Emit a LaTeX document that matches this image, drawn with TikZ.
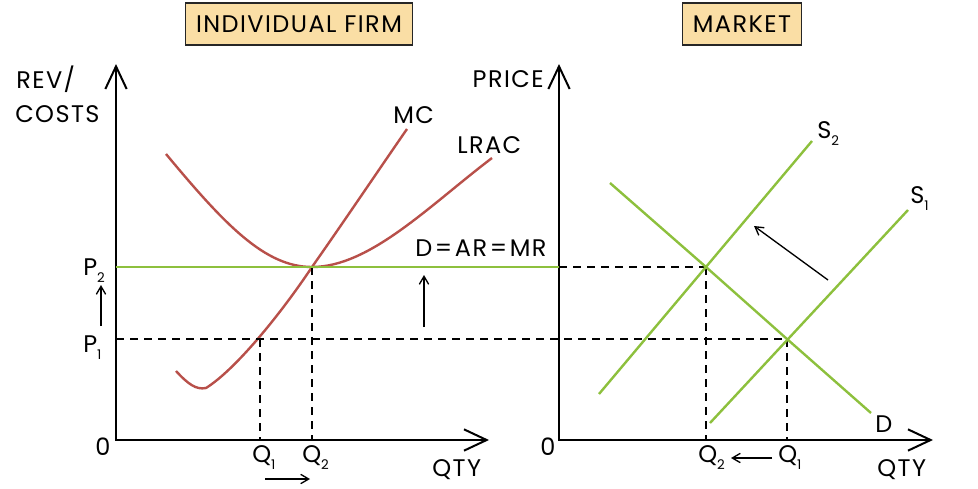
\documentclass[tikz,border=0pt]{standalone}
\usepackage{fontspec}
\setmainfont{Poppins}[LetterSpace=6]
\usetikzlibrary{arrows.meta}
\definecolor{costred}{RGB}{184,80,74}
\definecolor{mktgreen}{RGB}{141,192,61}
\definecolor{titlefill}{RGB}{250,222,165}
\newcommand{\sbs}[1]{\raisebox{-0.6ex}{\fontsize{10}{10}\selectfont #1}}

\begin{document}
\begin{tikzpicture}[x=0.75pt,y=-0.75pt,
  lbl/.style={font=\fontsize{18}{20}\selectfont,inner sep=0pt,anchor=base west},
  titlebox/.style={draw=black!85,line width=1pt,fill=titlefill,minimum height=31.5pt,inner xsep=8pt,font=\fontsize{18}{20}\selectfont},
  axes/.style={line width=1.5pt,{Straight Barb[length=17pt,width=16pt]}-{Straight Barb[length=17pt,width=16pt]}},
  curve/.style={line width=1.8pt,costred},
  mkt/.style={line width=1.8pt,mktgreen},
  guide/.style={line width=1.1pt,dash pattern=on 6pt off 4.5pt},
  movearr/.style={line width=1pt,-{Straight Barb[length=6pt,width=7pt]}}]
\useasboundingbox (0,0) rectangle (978,489);
% titles
\node[titlebox] (firm) at (299,24) {INDIVIDUAL FIRM};
\node[titlebox] (mkt) at (742,24) {MARKET};
% individual firm
\coordinate (y1) at (116,64);
\coordinate (x1) at (489,440);
\coordinate (p2) at (116,267);
\coordinate (p1) at (116,339);
\coordinate (q1) at (260,440);
\coordinate (q2) at (312,440);
\coordinate (a1) at (260,339);
\coordinate (a2) at (312,267);
\draw[axes] (y1) |- (x1);
\node[lbl] (rev) at (16,88) {REV/};
\node[lbl] (costs) at (15,122) {COSTS};
\node[lbl] (zero1) at (95,455) {0};
\node[lbl] (qty1) at (432,476) {QTY};
\draw[curve] (166,154) .. controls (225,225) and (265,267) .. (a2)
  .. controls (370,267) and (430,205) .. (492,158);
\draw[curve] (176,371) .. controls (188,384) and (196,390) .. (206,388)
  .. controls (235,370) and (280,315) .. (a2)
  .. controls (345,220) and (380,168) .. (407,129);
\node[lbl] (mc) at (393,123) {MC};
\node[lbl] (lrac) at (457,153) {LRAC};
\node[lbl] (dar) at (415,256) {D\hspace{2pt}=\hspace{2pt}AR\hspace{2pt}=\hspace{2pt}MR};
\draw[guide] (a1) -- (q1);
\draw[guide] (a2) -- (q2);
\node[lbl] (p2l) at (83,275) {P\sbs{2}};
\node[lbl] (p1l) at (83,352) {P\sbs{1}};
\node[lbl] (q1l) at (252,462) {Q\sbs{1}};
\node[lbl] (q2l) at (302,462) {Q\sbs{2}};
\coordinate (pup0) at (101,326);
\coordinate (pup1) at (101,285);
\draw[movearr] (pup0) -- (pup1);
\coordinate (dup0) at (424,327);
\coordinate (dup1) at (424,275);
\draw[movearr] (dup0) -- (dup1);
\coordinate (qr0) at (265,479);
\coordinate (qr1) at (310,479);
\draw[movearr] (qr0) -- (qr1);
% market
\coordinate (y2) at (559,64);
\coordinate (x2) at (933,440);
\coordinate (m2) at (559,267);
\coordinate (e2) at (706,267);
\coordinate (e1) at (787,339);
\coordinate (qm2) at (706,440);
\coordinate (qm1) at (787,440);
\draw[axes] (y2) |- (x2);
\node[lbl,anchor=base east] (price) at (544,87) {PRICE};
\node[lbl] (zero2) at (540,455) {0};
\node[lbl] (qty2) at (877,476) {QTY};
\draw[guide] (p1) -- (e1);
\draw[guide] (m2) -- (e2);
\draw[guide] (e2) -- (qm2);
\draw[guide] (e1) -- (qm1);
\draw[mkt] (p2) -- (m2);
\draw[mkt] (610,183) -- (e2) -- (e1) -- (871,413);
\draw[mkt] (599,394) -- (812,141);
\draw[mkt] (710,423) -- (908,210);
\node[lbl] (dl) at (875,432) {D};
\node[lbl] (s2l) at (817,138) {S\sbs{2}};
\node[lbl] (s1l) at (910,203) {S\sbs{1}};
\node[lbl] (qm2l) at (698,462) {Q\sbs{2}};
\node[lbl] (qm1l) at (778,462) {Q\sbs{1}};
\coordinate (ql0) at (772,458);
\coordinate (ql1) at (731,458);
\draw[movearr] (ql0) -- (ql1);
\coordinate (sh0) at (828,280);
\coordinate (sh1) at (754,226);
\draw[movearr] (sh0) -- (sh1);
\end{tikzpicture}
\end{document}
